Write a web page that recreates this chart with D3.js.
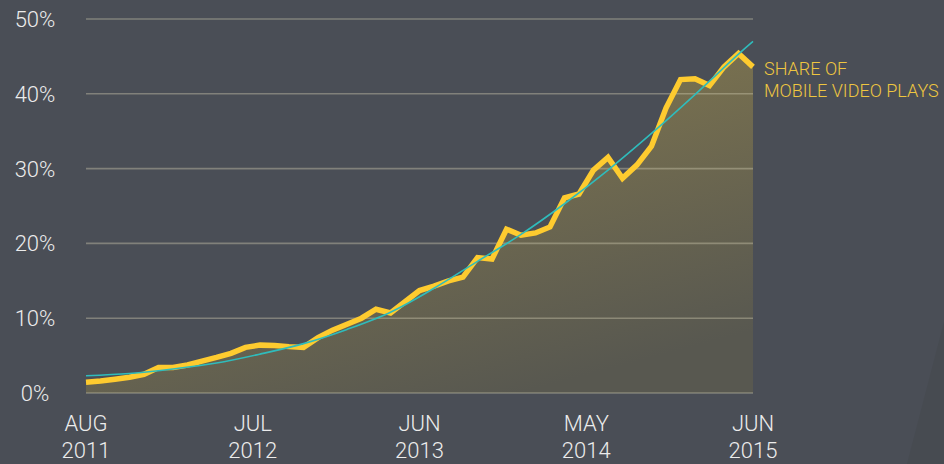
<!DOCTYPE html>
<html><head><meta charset="utf-8">
<script src="https://cdn.jsdelivr.net/npm/d3@7"></script>
<style>
html,body{margin:0;padding:0;background:#4a4e56;}
svg{display:block;}
text{font-family:Roboto,"Open Sans",sans-serif;}
</style></head>
<body>
<svg id="chart" width="944" height="464"></svg>
<script>
// ---- data ----
const startMonth = new Date(2011, 7, 1);
const endMonth = new Date(2015, 6, 1);
const months = d3.timeMonth.range(startMonth, endMonth); // Aug 2011 .. Jun 2015
const shareValues = [1.45,1.6,1.85,2.1,2.5,3.4,3.4,3.75,4.25,4.75,5.3,6.1,6.4,6.35,6.2,6.1,7.4,8.4,9.2,10.0,11.2,10.7,12.2,13.7,14.3,15.0,15.5,18.1,17.9,21.9,21.1,21.4,22.2,26.1,26.6,29.8,31.5,28.7,30.5,33.0,38.1,41.9,42.0,41.1,43.6,45.4,43.6];
const trendIndex = [0,3,6,9,12,15,18,21,24,27,30,33,36,39,42,45,46];
const trendValues = [2.3,2.6,3.2,4.0,5.2,6.6,8.5,10.8,14.0,17.6,21.2,25.3,29.8,34.7,39.9,45.3,47.0];
const yTicks = [0,10,20,30,40,50];
const xTickLabels = [["AUG","2011"],["JUL","2012"],["JUN","2013"],["MAY","2014"],["JUN","2015"]];
const seriesLabel = ["SHARE OF","MOBILE VIDEO PLAYS"];

// ---- layout ----
const W = 944, H = 464;
const plot = {left: 86, right: 753, top: 19, bottom: 393};
const svg = d3.select("#chart");

const x = d3.scaleLinear().domain([0, months.length - 1]).range([plot.left, plot.right]);
const y = d3.scaleLinear().domain([0, 50]).range([plot.bottom, plot.top]);

// background
svg.append("rect").attr("width", W).attr("height", H).attr("fill", "#4a4e56");
svg.append("path").attr("d", `M${W},322 L${W},${H} L907,${H} Z`).attr("fill", "#474b51");

// gradient for area
const defs = svg.append("defs");
const grad = defs.append("linearGradient").attr("id", "areaGrad")
  .attr("gradientUnits", "userSpaceOnUse")
  .attr("x1", 420).attr("y1", plot.top).attr("x2", 520).attr("y2", plot.bottom);
grad.append("stop").attr("offset", "0").attr("stop-color", "#857a4f");
grad.append("stop").attr("offset", "1").attr("stop-color", "#585850");

const area = d3.area()
  .x((d, i) => x(i))
  .y0(y(0))
  .y1(d => y(d));
svg.append("path").datum(shareValues).attr("d", area).attr("fill", "url(#areaGrad)");

// gridlines
const grid = svg.append("g");
grid.selectAll("line").data(yTicks).join("line")
  .attr("x1", plot.left).attr("x2", plot.right)
  .attr("y1", d => y(d)).attr("y2", d => y(d))
  .attr("stroke", "rgba(205,200,175,0.42)").attr("stroke-width", 1.6);

// y labels
svg.append("g").selectAll("text").data(yTicks).join("text")
  .attr("x", 35).attr("y", d => y(d) + 8)
  .attr("text-anchor", "middle")
  .attr("fill", "#ececec").attr("font-size", 22).attr("font-weight", 300)
  .text(d => d + "%");

// x labels evenly spaced
const tickPos = xTickLabels.map((d, k) => k * (months.length - 1) / (xTickLabels.length - 1));
const xl = svg.append("g").selectAll("text").data(xTickLabels).join("text")
  .attr("text-anchor", "middle")
  .attr("fill", "#ececec").attr("font-size", 22).attr("font-weight", 300);
xl.append("tspan").attr("x", (d, k) => x(tickPos[k])).attr("y", 431).text(d => d[0]);
xl.append("tspan").attr("x", (d, k) => x(tickPos[k])).attr("y", 458).text(d => d[1]);

// main line
const line = d3.line().x((d, i) => x(i)).y(d => y(d));
svg.append("path").datum(shareValues).attr("d", line)
  .attr("fill", "none").attr("stroke", "#fecb2f").attr("stroke-width", 5.5)
  .attr("stroke-linejoin", "miter").attr("stroke-linecap", "butt");

// trend line
const trendLine = d3.line().curve(d3.curveCatmullRom.alpha(0.5))
  .x((d, i) => x(trendIndex[i])).y(d => y(d));
svg.append("path").datum(trendValues).attr("d", trendLine)
  .attr("fill", "none").attr("stroke", "#2fbcbc").attr("stroke-width", 1.6);

// series label
const sl = svg.append("text").attr("fill", "#efc640").attr("font-size", 18).attr("font-weight", 300);
sl.selectAll("tspan").data(seriesLabel).join("tspan")
  .attr("x", 764).attr("y", (d, i) => 75 + i * 22).text(d => d);
</script>
</body></html>
